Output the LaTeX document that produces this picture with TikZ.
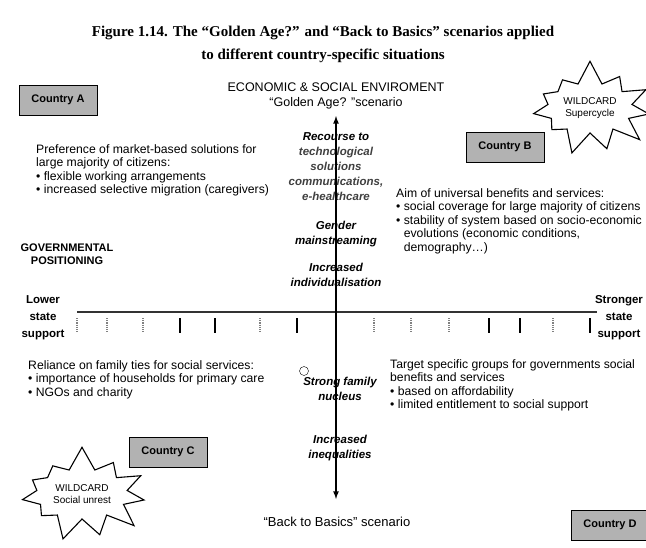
\documentclass[tikz,border=0pt]{standalone}
\usepackage{fontspec}
\setmainfont{Liberation Sans}
\newfontfamily\serifbf{Liberation Serif}
\usetikzlibrary{arrows,positioning,shapes.symbols}

\begin{document}
\begin{tikzpicture}[
x=1pt, y=-1pt,
countrynode/.style={rectangle, draw, fill=gray!60, minimum width=78pt, minimum height=30pt, font=\fontsize{11}{12}\selectfont\bfseries},
burstnode/.style={starburst, draw, line width=1.1pt, starburst points=11, starburst point height=24pt, random starburst=7, minimum width=128pt, minimum height=98pt, align=center, font=\fontsize{10}{12}\selectfont},
bodytext/.style={align=left, anchor=north west, inner sep=0pt, font=\fontsize{12.2}{13.6}\selectfont},
axistext/.style={align=center, inner sep=0pt, font=\fontsize{11.5}{15}\selectfont\bfseries\itshape},
sidetext/.style={align=center, inner sep=0pt, font=\fontsize{11.5}{17}\selectfont\bfseries},
tickmark/.style={line width=1.2pt}]
\useasboundingbox (0,0) rectangle (646,547);
% Title and scenarios
\node[font=\serifbf\bfseries\fontsize{15}{23}\selectfont, align=center] (title) at (323,44) {Figure 1.14. The “Golden Age?” and “Back to Basics” scenarios applied\\to different country-specific situations};
\node[font=\fontsize{12.5}{15}\selectfont, align=center] (golden) at (336,96) {ECONOMIC \& SOCIAL ENVIROMENT\\“Golden Age? ”scenario};
\node[font=\fontsize{13}{14}\selectfont] (basics) at (337,522) {“Back to Basics” scenario};
% Axes
\coordinate (ntop) at (336,116);
\coordinate (nbottom) at (336,499);
\coordinate (wleft) at (77,312);
\coordinate (wright) at (597,312);
% Countries and wildcards
\node[countrynode] (ca) at (58,100) {Country A};
\node[countrynode] (cb) at (505,147) {Country B};
\node[countrynode] (cc) at (168,452) {Country C};
\node[countrynode] (cd) at (610,525) {Country D};
\node[burstnode] (wc1) at (590,108) {WILDCARD\\Supercycle};
\node[burstnode] (wc2) at (82,494) {WILDCARD\\Social unrest};
% Texts on the axis
\node[axistext] (recourse) at (336,167) {Recourse to\\\textcolor{black!75}{technological}\\\textcolor{black!75}{solutions}\\\textcolor{black!75}{communications,}\\\textcolor{black!75}{e-healthcare}};
\node[axistext] (gender) [below=20pt of recourse] {Gender\\mainstreaming};
\node[axistext] (individual) [below=16pt of gender] {Increased\\individualisation};
\node[axistext] (nucleus) at (340,389) {Strong family\\nucleus};
\node[axistext] (inequal) [below=34pt of nucleus] {Increased\\inequalities};
\node[circle, draw, inner sep=0pt, minimum size=9pt] (knot) at (304,371) {};
% Blocks
\node[bodytext] (market) at (36,144) {Preference of market-based solutions for\\large majority of citizens:\\• flexible working arrangements\\• increased selective migration (caregivers)};
\node[bodytext] (universal) at (396,188) {Aim of universal benefits and services:\\• social coverage for large majority of citizens\\• stability of system based on socio-economic\\\phantom{• }evolutions (economic conditions,\\\phantom{• }demography…)};
\node[bodytext] (family) at (28,360) {Reliance on family ties for social services:\\• importance of households for primary care\\• NGOs and charity};
\node[bodytext] (target) at (390,359) {Target specific groups for governments social\\benefits and services\\• based on affordability\\• limited entitlement to social support};
\node[font=\fontsize{11}{13}\selectfont\bfseries, align=center] (govern) at (67,254) {GOVERNMENTAL\\POSITIONING};
\node[sidetext] (lower) at (43,318) {Lower\\state\\support};
\node[sidetext] (stronger) at (619,318) {Stronger\\state\\support};
% Lines
\draw[line width=1.5pt, black!80] (wleft) -- (wright);
\foreach \x in {180,215,297,489,520,590}
  \draw[tickmark] (\x,318) -- (\x,333);
\foreach \x in {77,107,143,260,374,411,449,553}
  \draw[tickmark, densely dotted, gray] (\x,318) -- (\x,333);
\draw[line width=1.6pt, arrows={latex-latex}] (ntop) -- (nbottom);
\end{tikzpicture}
\end{document}
